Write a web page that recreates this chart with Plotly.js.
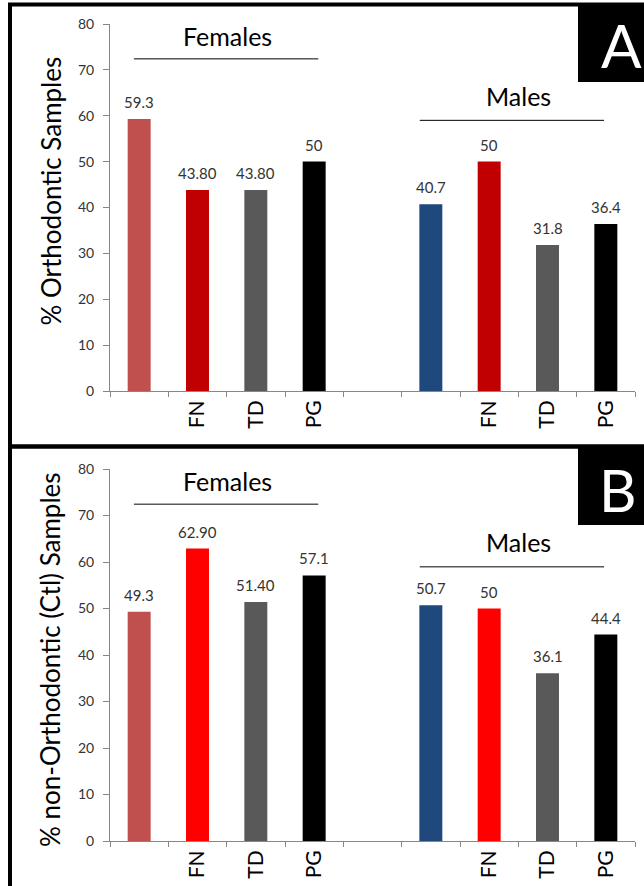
<!DOCTYPE html>
<html>
<head>
<meta charset="utf-8">
<script src="https://cdn.plot.ly/plotly-3.0.1.min.js"></script>
<style>html,body{margin:0;padding:0;background:#fff;}#chart{width:644px;height:886px;}</style>
</head>
<body>
<div id="chart"></div>
<script>
// ---- data ----
const categories = ["F_ctl","F_FN","F_TD","F_PG","gap","M_ctl","M_FN","M_TD","M_PG"];
const tickLabels = ["","FN","TD","PG","","","FN","TD","PG"];
const valuesA = [59.3, 43.8, 43.8, 50, null, 40.7, 50, 31.8, 36.4];
const labelsA = ["59.3","43.80","43.80","50","","40.7","50","31.8","36.4"];
const valuesB = [49.3, 62.9, 51.4, 57.1, null, 50.7, 50, 36.1, 44.4];
const labelsB = ["49.3","62.90","51.40","57.1","","50.7","50","36.1","44.4"];
const colorsA = ["#C0504D","#C00000","#595959","#000000","#ffffff","#1F497D","#C00000","#595959","#000000"];
const colorsB = ["#C0504D","#FF0000","#595959","#000000","#ffffff","#1F497D","#FF0000","#595959","#000000"];
const titleA = "% Orthodontic Samples";
const titleB = "% non-Orthodontic (Ctl) Samples";
const groupNames = ["Females","Males"];
const panelLetters = ["A","B"];

// ---- layout helpers ----
const W = 644, H = 886;
const px = v => v / W;
const py = v => 1 - v / H;
const FONT = "Lato, 'Open Sans', sans-serif";
const axisGray = "#868686";

const traces = [
  {type:"bar", x:categories, y:valuesA, marker:{color:colorsA}, xaxis:"x", yaxis:"y", hoverinfo:"none"},
  {type:"bar", x:categories, y:valuesB, marker:{color:colorsB}, xaxis:"x2", yaxis:"y2", hoverinfo:"none"}
];

function xAxis(anchor){
  return {
    domain:[px(110), px(635)], anchor:anchor, type:"category",
    categoryorder:"array", categoryarray:categories, range:[-0.5, 8.5],
    tickmode:"array", tickvals:categories, ticktext:tickLabels, tickson:"boundaries",
    ticks:"outside", ticklen:5, tickcolor:axisGray, tickwidth:1,
    showline:true, linecolor:axisGray, linewidth:1, showgrid:false, zeroline:false,
    tickangle:-90, tickfont:{family:FONT, size:21, color:"#000"}, fixedrange:true
  };
}
function yAxis(anchor, dom){
  return {
    domain:dom, anchor:anchor, range:[0,80], tickmode:"linear", tick0:0, dtick:10,
    ticks:"outside", ticklen:6, tickcolor:axisGray, tickwidth:1,
    showline:true, linecolor:axisGray, linewidth:1, showgrid:false, zeroline:false,
    ticklabelstandoff:6,
    tickfont:{family:FONT, size:14, color:"#333"}, fixedrange:true
  };
}

const annotations = [];
function dataLabels(vals, labs, xr, yr){
  vals.forEach((v,i)=>{
    if (v === null) return;
    annotations.push({xref:xr, yref:yr, x:categories[i], y:v, text:labs[i], showarrow:false,
      xanchor:"center", yanchor:"bottom", yshift:6, font:{family:FONT, size:15, color:"#333"}});
  });
}
dataLabels(valuesA, labelsA, "x", "y");
dataLabels(valuesB, labelsB, "x2", "y2");

const shapes = [];
[["x","y","#000",1],["x2","y2","#595959",1.5]].forEach(([xr,yr,lc,lw])=>{
  annotations.push({xref:xr, yref:yr, x:1.52, y:77.4, text:groupNames[0], showarrow:false,
    xanchor:"center", yanchor:"middle", font:{family:FONT, size:25, color:"#000"}});
  annotations.push({xref:xr, yref:yr, x:6.5, y:64.4, text:groupNames[1], showarrow:false,
    xanchor:"center", yanchor:"middle", font:{family:FONT, size:25, color:"#000"}});
  shapes.push({type:"line", xref:xr, yref:yr, x0:-0.09, x1:3.07, y0:72.4, y1:72.4, line:{color:lc, width:lw}});
  shapes.push({type:"line", xref:xr, yref:yr, x0:4.81, x1:7.97, y0:59.0, y1:59.0, line:{color:lc, width:lw}});
});

// y titles
annotations.push({xref:"paper", yref:"paper", x:px(50), y:py(191.5), text:titleA, textangle:-90,
  xanchor:"center", yanchor:"middle", showarrow:false, font:{family:FONT, size:26, color:"#000"}});
annotations.push({xref:"paper", yref:"paper", x:px(50), y:py(660), text:titleB, textangle:-90,
  xanchor:"center", yanchor:"middle", showarrow:false, font:{family:FONT, size:26, color:"#000"}});

// panel borders
shapes.push({type:"rect", xref:"paper", yref:"paper", x0:px(10), x1:px(660), y0:py(446.5), y1:py(4.5),
  line:{color:"#000", width:4}, fillcolor:"rgba(0,0,0,0)"});
shapes.push({type:"rect", xref:"paper", yref:"paper", x0:px(10), x1:px(660), y0:py(900), y1:py(446.5),
  line:{color:"#000", width:4}, fillcolor:"rgba(0,0,0,0)"});
// letter boxes
shapes.push({type:"rect", xref:"paper", yref:"paper", x0:px(578), x1:px(660), y0:py(82), y1:py(4),
  line:{width:0}, fillcolor:"#000"});
shapes.push({type:"rect", xref:"paper", yref:"paper", x0:px(578), x1:px(660), y0:py(525), y1:py(448),
  line:{width:0}, fillcolor:"#000"});
annotations.push({xref:"paper", yref:"paper", x:px(621), y:py(45), text:panelLetters[0], showarrow:false,
  xanchor:"center", yanchor:"middle", font:{family:FONT, size:60, color:"#fff"}});
annotations.push({xref:"paper", yref:"paper", x:px(618), y:py(489), text:panelLetters[1], showarrow:false,
  xanchor:"center", yanchor:"middle", font:{family:FONT, size:58, color:"#fff"}});

const layout = {
  width:W, height:H, margin:{l:0,r:0,t:0,b:0}, paper_bgcolor:"#fff", plot_bgcolor:"rgba(0,0,0,0)",
  showlegend:false, bargap:0.606,
  xaxis:xAxis("y"), yaxis:yAxis("x", [py(391), py(24)]),
  xaxis2:xAxis("y2"), yaxis2:yAxis("x2", [py(841), py(469)]),
  annotations:annotations, shapes:shapes
};

Plotly.newPlot("chart", traces, layout, {staticPlot:true, displayModeBar:false});
</script>
</body>
</html>
